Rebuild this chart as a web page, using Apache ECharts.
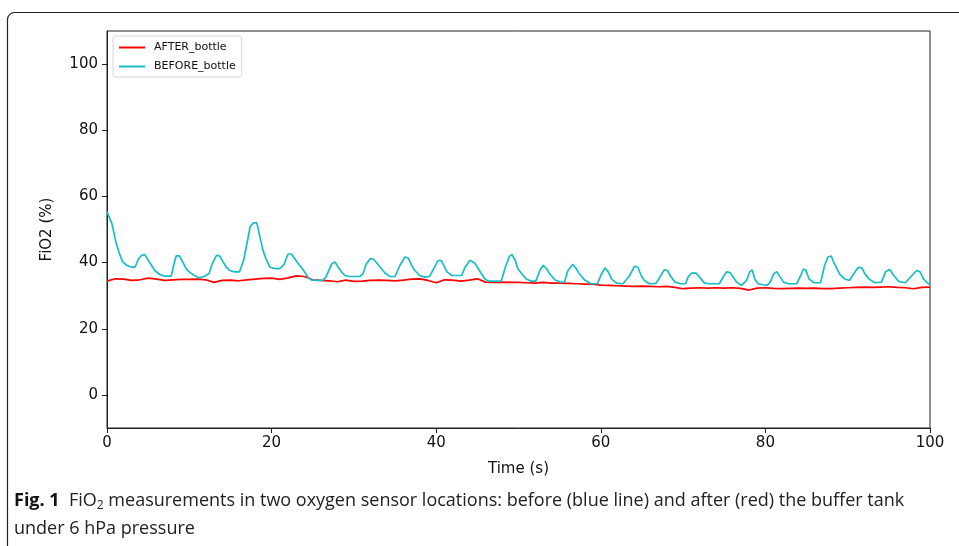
<!DOCTYPE html>
<html lang="en">
<head>
    <meta charset="UTF-8">
    <title>FiO2 before / after bottle</title>
    <script src="https://cdn.jsdelivr.net/npm/echarts@6/dist/echarts.min.js"></script>
    <style>
        html, body {margin: 0; padding: 0; background: #fff;}
        #main {width: 959px; height: 546px;}
    </style>
</head>
<body>
<div id="main"></div>
<script>
    // 数据 - 从图上读出来的
    var seriesNames = ['AFTER_bottle', 'BEFORE_bottle'];
    var xTicks = [0, 20, 40, 60, 80, 100];
    var yTicks = [0, 20, 40, 60, 80, 100];

    // AFTER_bottle: [time s, FiO2 %]
    var afterBottle = [
        [0,34.4],[1,35.1],[2,35.0],[3,34.6],[4,34.8],[5,35.3],[6,35.0],[7,34.6],[8,34.8],[9,34.9],
        [10,34.9],[11,35.0],[12,34.8],[13,34.0],[14,34.6],[15,34.7],[16,34.5],[17,34.8],[18,35.0],[19,35.2],
        [20,35.3],[21,34.9],[22,35.4],[23,36.0],[24,35.8],[25,34.8],[26,34.6],[27,34.5],[28,34.2],[29,34.7],
        [30,34.3],[31,34.4],[32,34.6],[33,34.7],[34,34.6],[35,34.5],[36,34.7],[37,35.0],[38,35.1],[39,34.6],
        [40,33.9],[41,34.8],[42,34.7],[43,34.4],[44,34.7],[45,35.1],[46,34.1],[47,34.0],[48,34.1],[49,34.0],
        [50,34.0],[51,33.9],[52,33.8],[53,34.0],[54,33.8],[55,33.8],[56,33.7],[57,33.6],[58,33.5],[59,33.5],
        [60,33.2],[61,33.1],[62,33.0],[63,32.9],[64,32.8],[65,32.9],[66,32.8],[67,32.7],[68,32.8],[69,32.5],
        [70,32.1],[71,32.3],[72,32.4],[73,32.3],[74,32.4],[75,32.3],[76,32.4],[77,32.2],[78,31.7],[79,32.3],
        [80,32.4],[81,32.2],[82,32.1],[83,32.2],[84,32.3],[85,32.2],[86,32.3],[87,32.1],[88,32.1],[89,32.3],
        [90,32.4],[91,32.5],[92,32.6],[93,32.5],[94,32.6],[95,32.7],[96,32.5],[97,32.4],[98,32.1],[99,32.5],
        [100,32.6]
    ];

    // BEFORE_bottle: [time s, FiO2 %]
    var beforeBottle = [
        [0,55.4],[0.6,51.7],[1.1,46],[1.5,42.8],[1.9,40.2],[2.4,39.2],[3.0,38.6],[3.4,38.6],[3.8,41],[4.2,42.2],
        [4.6,42.4],[5.0,40.8],[5.4,39.2],[5.8,37.6],[6.4,36.4],[7.0,35.9],[7.8,35.9],[8.1,39.2],[8.4,42],[8.8,42],
        [9.2,40.2],[9.6,38.2],[10.0,37.2],[10.6,36.1],[11.2,35.4],[11.8,35.8],[12.4,36.7],[12.8,39.7],[13.3,42.2],[13.7,42],
        [14.1,40.2],[14.5,38.6],[14.9,37.6],[15.5,37.2],[16.1,37.2],[16.6,40.7],[17.0,45.7],[17.4,50.9],[17.8,52],[18.2,52],
        [18.5,48.7],[18.9,44.2],[19.3,41.2],[19.8,38.6],[20.4,38.2],[21.0,38.2],[21.5,39.4],[22.0,42.6],[22.4,42.6],[22.8,41.2],
        [23.2,39.8],[23.6,38.6],[24.0,37.2],[24.4,35.6],[24.8,34.8],[25.4,34.6],[26.2,34.6],[26.6,35.6],[27.3,39.6],[27.7,40.2],
        [28.1,38.6],[28.5,37.2],[28.9,36.1],[29.5,35.8],[30.7,35.8],[31.1,36.6],[31.5,39.6],[32.0,41.2],[32.4,41],[32.8,39.8],
        [33.2,38.6],[33.8,36.8],[34.4,35.8],[35.0,35.8],[35.6,39.2],[36.2,41.7],[36.6,41.4],[37.0,39.2],[37.4,37.6],[38.0,36.1],
        [38.6,35.6],[39.2,35.8],[39.7,38.2],[40.2,40.5],[40.6,40.7],[40.9,39.2],[41.3,37.2],[41.9,36.1],[43.1,36.1],[43.5,38.6],
        [44.1,40.7],[44.7,39.8],[45.1,38.2],[45.5,36.6],[45.9,35.1],[46.3,34.4],[47.9,34.4],[48.4,38.6],[48.9,41.9],[49.2,42.5],
        [49.6,40.7],[49.9,38.2],[50.4,36.6],[50.9,35.1],[51.5,34.4],[52.1,34.4],[52.6,37.6],[53.0,39.2],[53.4,38.2],[53.8,36.6],
        [54.4,34.8],[55.2,34.0],[55.6,34.2],[56.0,37.6],[56.6,39.5],[57.0,38.2],[57.4,36.6],[58.0,34.8],[58.8,33.6],[59.6,33.6],
        [60.0,36.1],[60.5,38.4],[60.9,37.2],[61.3,35.1],[61.9,33.8],[62.7,33.6],[63.5,36.1],[64.1,38.9],[64.5,38.6],[64.9,36.1],
        [65.3,34.6],[65.9,33.6],[66.7,33.7],[67.3,36.1],[67.7,37.8],[68.1,37.6],[68.5,35.8],[69.0,34.1],[69.7,33.6],[70.3,33.6],
        [70.6,35.6],[71.0,36.8],[71.6,36.8],[72.0,35.6],[72.6,33.8],[73.2,33.6],[74.4,33.6],[74.9,35.8],[75.3,37.2],[75.7,37.0],
        [76.1,35.6],[76.5,34.1],[77.1,33.1],[77.7,34.6],[78.1,37.2],[78.4,37.8],[78.7,35.1],[79.1,33.6],[79.7,33.3],[80.2,33.1],
        [80.6,34.1],[81.0,36.6],[81.4,37.2],[81.8,35.6],[82.2,34.1],[82.8,33.6],[83.8,33.6],[84.3,36.1],[84.6,38],[84.9,37.8],
        [85.3,35.1],[85.9,33.9],[86.7,33.9],[87.2,39.2],[87.6,41.7],[88.0,42],[88.2,40.7],[88.6,38.6],[89.0,36.6],[89.6,35.1],
        [90.2,34.6],[90.9,37.2],[91.3,38.6],[91.7,38.4],[92.1,36.6],[92.6,35.0],[93.3,33.9],[94.1,34.1],[94.6,37.2],[95.1,37.9],
        [95.6,36.1],[96.2,34.3],[97.0,33.9],[97.8,36.1],[98.4,37.6],[98.8,37.2],[99.2,35.1],[99.8,33.6],[100,33.4]
    ];

    var myChart = echarts.init(document.getElementById('main'));
    var tickFont = 'DejaVu Sans';
    var capFont = "'Open Sans', 'Noto Sans', sans-serif";

    var option = {
        animation: false,
        backgroundColor: '#fff',
        grid: {
            left: 107, right: 29, top: 31, bottom: 118,
            show: true, borderColor: '#222', borderWidth: 1
        },
        legend: {
            orient: 'vertical',
            left: 113, top: 36,
            data: seriesNames,
            icon: 'rect',
            itemWidth: 26, itemHeight: 2,
            itemGap: 8,
            padding: [6, 6, 5, 6],
            backgroundColor: '#fff',
            borderColor: '#d6d6d6', borderWidth: 1, borderRadius: 3,
            textStyle: {fontFamily: tickFont, fontSize: 11, color: '#111', padding: [0, 0, 0, 4]}
        },
        xAxis: {
            type: 'value',
            min: 0, max: 100, interval: 20,
            name: 'Time (s)',
            nameLocation: 'middle',
            nameGap: 34,
            nameTextStyle: {fontFamily: tickFont, fontSize: 15, color: '#111'},
            axisLine: {show: true, onZero: false, lineStyle: {color: '#222'}},
            axisTick: {show: true, length: 5, lineStyle: {color: '#222'}},
            axisLabel: {fontFamily: tickFont, fontSize: 15, color: '#111', margin: 8},
            splitLine: {show: false}
        },
        yAxis: {
            type: 'value',
            min: -10, max: 110,
            name: 'FiO2 (%)',
            nameLocation: 'middle',
            nameRotate: 90,
            nameGap: 52,
            nameTextStyle: {fontFamily: tickFont, fontSize: 15, color: '#111'},
            axisLine: {show: true, onZero: false, lineStyle: {color: '#222'}},
            axisTick: {show: true, length: 5, customValues: yTicks, lineStyle: {color: '#222'}},
            axisLabel: {fontFamily: tickFont, fontSize: 15, color: '#111', margin: 9, customValues: yTicks},
            splitLine: {show: false}
        },
        series: [
            {
                name: seriesNames[0],
                type: 'line',
                showSymbol: false,
                color: '#ff0000',
                lineStyle: {width: 1.7},
                data: afterBottle
            },
            {
                name: seriesNames[1],
                type: 'line',
                showSymbol: false,
                color: '#17bec4',
                lineStyle: {width: 1.7},
                data: beforeBottle
            }
        ],
        graphic: [
            // 外框
            {
                type: 'rect',
                shape: {x: 7.5, y: 12.5, width: 1000, height: 600, r: 7},
                style: {fill: 'none', stroke: '#222', lineWidth: 1.2},
                silent: true
            },
            {
                type: 'text',
                left: 14, top: 492,
                style: {
                    text: '{b|Fig. 1}  FiO{s|2} measurements in two oxygen sensor locations: before (blue line) and after (red) the buffer tank',
                    font: '18px ' + capFont,
                    fill: '#222',
                    rich: {
                        b: {fontWeight: 'bold', fontSize: 18, fontFamily: capFont, fill: '#111'},
                        s: {fontSize: 12, fontFamily: capFont, padding: [9, 0, 0, 0]}
                    }
                }
            },
            {
                type: 'text',
                left: 14, top: 520,
                style: {
                    text: 'under 6 hPa pressure',
                    font: '18px ' + capFont,
                    fill: '#222'
                }
            }
        ]
    };
    myChart.setOption(option);
</script>
</body>
</html>
